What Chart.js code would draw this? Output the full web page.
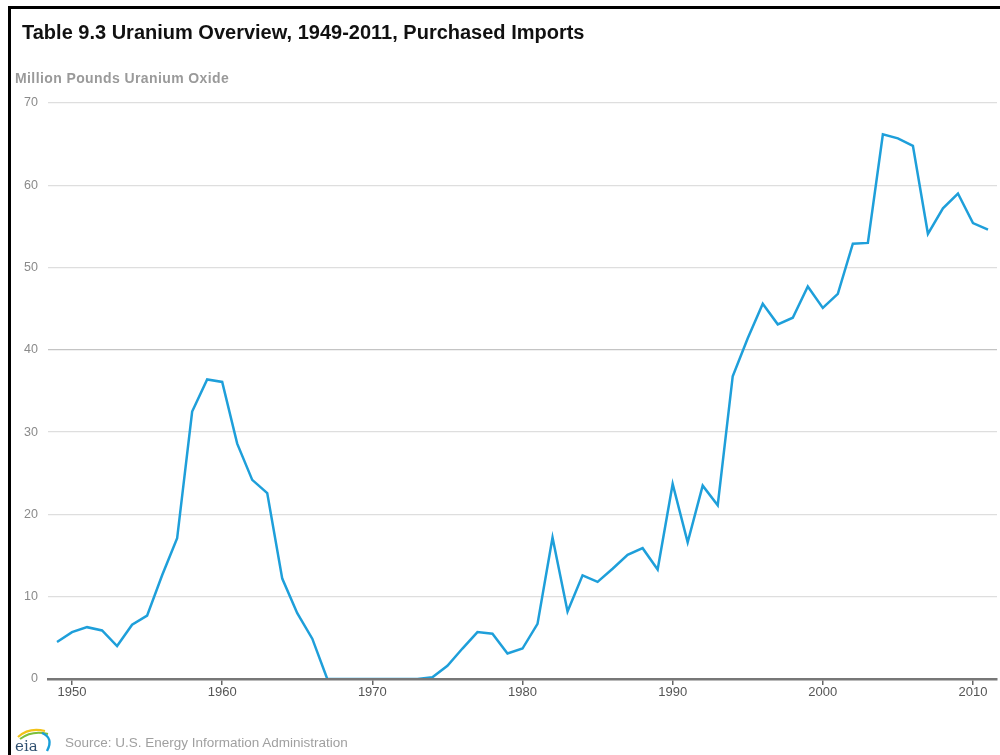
<!DOCTYPE html>
<html>
<head>
<meta charset="utf-8">
<script src="https://cdn.jsdelivr.net/npm/chart.js@4.4.1/dist/chart.umd.min.js"></script>
<style>
  html, body { margin: 0; padding: 0; background: #fff; }
  #wrap { position: relative; width: 1000px; height: 755px; overflow: hidden; font-family: "Liberation Sans", Arial, sans-serif; }
  #frame { position: absolute; left: 8px; top: 6px; right: 0; bottom: 0; border-top: 3px solid #000; border-left: 3px solid #000; }
  #chart { position: absolute; left: 0; top: 0; }
  #title { position: absolute; left: 22px; top: 21px; font-size: 20px; font-weight: bold; color: #111; white-space: nowrap; }
  #subtitle { position: absolute; left: 15px; top: 70px; font-size: 14px; font-weight: bold; color: #9a9a9a; letter-spacing: 0.4px; white-space: nowrap; }
  #source { position: absolute; left: 65px; top: 735px; font-size: 13.5px; color: #a0a0a0; white-space: nowrap; }
  #logo { position: absolute; left: 14px; top: 724px; }
</style>
</head>
<body>
<div id="wrap">
  <canvas id="chart" width="1000" height="755"></canvas>
  <div id="frame"></div>
  <div id="title">Table 9.3 Uranium Overview, 1949-2011, Purchased Imports</div>
  <div id="subtitle">Million Pounds Uranium Oxide</div>
  <svg id="logo" width="42" height="30" viewBox="0 0 42 30">
    <path d="M4 13 Q15 3 31 7" stroke="#f2c318" stroke-width="2.2" fill="none"/>
    <path d="M6 15 Q18 6 34 10" stroke="#7cbf3a" stroke-width="2" fill="none"/>
    <path d="M28 9 Q40 14 33 27" stroke="#1a9fd9" stroke-width="2.4" fill="none"/>
    <text x="1" y="27" font-family="DejaVu Serif, serif" font-size="15" fill="#2f4f6f">eia</text>
  </svg>
  <div id="source">Source: U.S. Energy Information Administration</div>
</div>
<script>
// ─── Datos: importaciones compradas de uranio (millones de libras U3O8) ───
const years = [
  1949, 1950, 1951, 1952, 1953, 1954, 1955, 1956, 1957, 1958,
  1959, 1960, 1961, 1962, 1963, 1964, 1965, 1966, 1967, 1968,
  1969, 1970, 1971, 1972, 1973, 1974, 1975, 1976, 1977, 1978,
  1979, 1980, 1981, 1982, 1983, 1984, 1985, 1986, 1987, 1988,
  1989, 1990, 1991, 1992, 1993, 1994, 1995, 1996, 1997, 1998,
  1999, 2000, 2001, 2002, 2003, 2004, 2005, 2006, 2007, 2008,
  2009, 2010, 2011
];

const imports = [
  4.5, 5.7, 6.3, 5.9, 4.0, 6.6, 7.7, 12.6, 17.1, 32.5,
  36.4, 36.1, 28.6, 24.2, 22.6, 12.2, 8.0, 4.9, 0.0, 0.0,
  0.0, 0.0, 0.0, 0.0, 0.0, 0.2, 1.6, 3.7, 5.7, 5.5,
  3.1, 3.7, 6.7, 17.2, 8.2, 12.6, 11.8, 13.4, 15.1, 15.9,
  13.3, 23.7, 16.6, 23.5, 21.1, 36.8, 41.4, 45.6, 43.1, 43.9,
  47.7, 45.1, 46.8, 52.9, 53.0, 66.2, 65.7, 64.8, 54.1, 57.2,
  59.0, 55.4, 54.6
];

const xTickYears = [1950, 1960, 1970, 1980, 1990, 2000, 2010];
const yTicks = [0, 10, 20, 30, 40, 50, 60, 70];

const lineColor = '#1e9fda';

new Chart(document.getElementById('chart'), {
  type: 'line',
  data: {
    datasets: [{
      label: 'Purchased Imports',
      data: imports.map((v, i) => ({ x: years[i], y: v })),
      borderColor: lineColor,
      borderWidth: 2.5,
      pointRadius: 0,
      tension: 0,
      fill: false
    }]
  },
  options: {
    responsive: false,
    animation: false,
    layout: { padding: { top: 103, right: 3, bottom: 0, left: 8 } },
    plugins: {
      legend: { display: false },
      tooltip: { enabled: false }
    },
    scales: {
      x: {
        type: 'linear',
        min: 1948.4,
        max: 2011.6,
        afterBuildTicks: (axis) => { axis.ticks = xTickYears.map(v => ({ value: v })); },
        afterFit: (axis) => { axis.height = 76; },
        ticks: {
          color: '#555',
          font: { family: 'Liberation Sans', size: 13 },
          padding: 0,
          maxRotation: 0,
          callback: (v) => String(v)
        },
        // eje por encima de la línea para tapar el tramo en cero
        grid: { drawOnChartArea: false, drawTicks: true, tickLength: 6, color: '#666', lineWidth: 1.5, z: 1 },
        border: { display: true, color: '#777', width: 2.5, z: 1 }
      },
      y: {
        min: 0,
        max: 70,
        afterBuildTicks: (axis) => { axis.ticks = yTicks.map(v => ({ value: v })); },
        afterFit: (axis) => { axis.width = 40; },
        ticks: {
          color: '#8a8a8a',
          font: { family: 'Liberation Sans', size: 12.5 },
          padding: 10
        },
        grid: {
          drawTicks: false,
          color: (ctx) => ctx.tick && ctx.tick.value === 40 ? '#c4c4c4' : '#dedede',
          lineWidth: 1.3
        },
        border: { display: false }
      }
    }
  }
});
</script>
</body>
</html>
